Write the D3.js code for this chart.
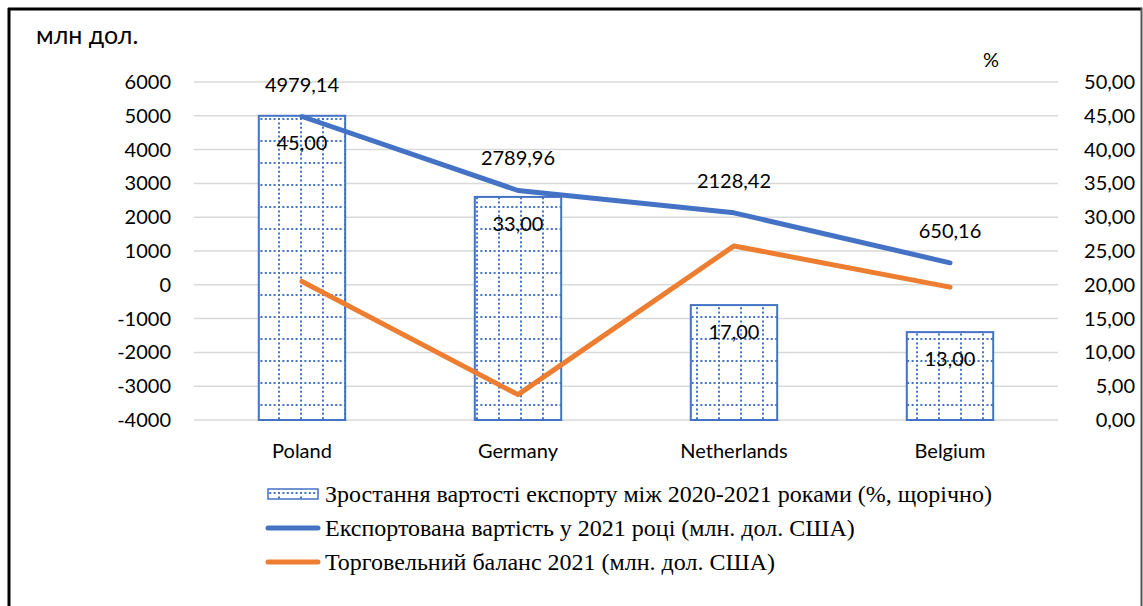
<!DOCTYPE html>
<html lang="uk">
<head>
    <meta charset="UTF-8">
    <title>Експорт 2021</title>
    <script src="https://d3js.org/d3.v7.min.js"></script>
    <style>
        body {
            margin: 0;
            background: #ffffff;
        }
        .tick-label {
            font-family: Lato, "Open Sans", sans-serif;
            font-size: 20px;
            fill: #000;
        }
        .legend-text {
            font-family: "Liberation Serif", "DejaVu Serif", serif;
            font-size: 24px;
            fill: #000;
        }
    </style>
</head>
<body>
    <div id="chart"></div>
    <script>
        const categories = ['Poland', 'Germany', 'Netherlands', 'Belgium'];
        const growthPct = [45.00, 33.00, 17.00, 13.00];
        const exportValue = [4979.14, 2789.96, 2128.42, 650.16];
        const tradeBalance = [100, -3250, 1150, -70];
        const leftTicks = [-4000, -3000, -2000, -1000, 0, 1000, 2000, 3000, 4000, 5000, 6000];
        const rightTicks = [0, 5, 10, 15, 20, 25, 30, 35, 40, 45, 50];
        const legendLabels = [
            'Зростання вартості експорту між 2020-2021 роками (%, щорічно)',
            'Експортована вартість у 2021 році (млн. дол. США)',
            'Торговельний баланс 2021 (млн. дол. США)'
        ];

        const width = 1143;
        const height = 606;
        const plot = { left: 194, right: 1058, top: 82, bottom: 420 };
        const blue = '#4472C4';
        const orange = '#ED7D31';

        const svg = d3.select('#chart')
            .append('svg')
            .attr('width', width)
            .attr('height', height);

        // frame
        svg.append('line').attr('x1', 9).attr('x2', 9).attr('y1', 8).attr('y2', height)
            .attr('stroke', '#000').attr('stroke-width', 3);
        svg.append('line').attr('x1', 8).attr('x2', 1142).attr('y1', 9).attr('y2', 9)
            .attr('stroke', '#000').attr('stroke-width', 3);
        svg.append('line').attr('x1', 1141.5).attr('x2', 1141.5).attr('y1', 8).attr('y2', height)
            .attr('stroke', '#555').attr('stroke-width', 2);

        // dotted grid fill for the bars
        const pattern = svg.append('defs').append('pattern')
            .attr('id', 'dotgrid')
            .attr('patternUnits', 'userSpaceOnUse')
            .attr('x', 14).attr('y', 8)
            .attr('width', 22).attr('height', 22);
        pattern.append('rect').attr('width', 22).attr('height', 22).attr('fill', '#fff');
        pattern.append('line').attr('x1', 0).attr('x2', 22).attr('y1', 1).attr('y2', 1)
            .attr('stroke', blue).attr('stroke-width', 2).attr('stroke-dasharray', '2,2.4');
        pattern.append('line').attr('x1', 1).attr('x2', 1).attr('y1', 0).attr('y2', 22)
            .attr('stroke', blue).attr('stroke-width', 2).attr('stroke-dasharray', '2,2.4');

        const x = d3.scaleBand().domain(categories).range([plot.left, plot.right]);
        const yL = d3.scaleLinear().domain([-4000, 6000]).range([plot.bottom, plot.top]);
        const yR = d3.scaleLinear().domain([0, 50]).range([plot.bottom, plot.top]);
        const barW = x.bandwidth() * 0.4;
        const cx = d => x(d) + x.bandwidth() / 2;

        // gridlines
        svg.selectAll('.grid')
            .data(leftTicks)
            .enter().append('line')
            .attr('class', 'grid')
            .attr('x1', plot.left).attr('x2', plot.right)
            .attr('y1', d => yL(d)).attr('y2', d => yL(d))
            .attr('stroke', '#d9d9d9').attr('stroke-width', 1.5);

        // left axis (plain hyphen for negatives)
        const leftAxis = svg.append('g')
            .attr('transform', 'translate(194,0)')
            .call(d3.axisLeft(yL).tickValues(leftTicks).tickSize(0).tickPadding(23).tickFormat(d => String(d)));
        leftAxis.select('.domain').remove();
        leftAxis.selectAll('text').attr('class', 'tick-label').attr('font-family', null).attr('font-size', null);

        // right axis
        const rightAxis = svg.append('g')
            .attr('transform', 'translate(1135,0)')
            .call(d3.axisLeft(yR).tickValues(rightTicks).tickSize(0).tickPadding(0)
                .tickFormat(d => d3.format('.2f')(d).replace('.', ',')));
        rightAxis.select('.domain').remove();
        rightAxis.selectAll('text').attr('class', 'tick-label').attr('font-family', null).attr('font-size', null);

        // category labels
        svg.selectAll('.cat')
            .data(categories)
            .enter().append('text')
            .attr('class', 'tick-label')
            .attr('x', d => cx(d))
            .attr('y', 458)
            .attr('text-anchor', 'middle')
            .text(d => d);

        // axis titles
        svg.append('text').attr('class', 'tick-label').style('font-size', '25px')
            .attr('x', 36).attr('y', 44).text('млн дол.');
        svg.append('text').attr('class', 'tick-label')
            .attr('x', 991).attr('y', 67).attr('text-anchor', 'middle').text('%');

        // bars (right axis)
        svg.selectAll('.bar')
            .data(growthPct)
            .enter().append('rect')
            .attr('class', 'bar')
            .attr('x', (d, i) => cx(categories[i]) - barW / 2)
            .attr('y', d => yR(d))
            .attr('width', barW)
            .attr('height', d => yR(0) - yR(d))
            .attr('fill', 'url(#dotgrid)')
            .attr('stroke', blue)
            .attr('stroke-width', 2);

        // lines (left axis)
        const line = d3.line()
            .x((d, i) => cx(categories[i]))
            .y(d => yL(d));

        svg.append('path').datum(exportValue)
            .attr('fill', 'none').attr('stroke', blue).attr('stroke-width', 5)
            .attr('stroke-linecap', 'round').attr('stroke-linejoin', 'round')
            .attr('d', line);
        svg.append('path').datum(tradeBalance)
            .attr('fill', 'none').attr('stroke', orange).attr('stroke-width', 5)
            .attr('stroke-linecap', 'round').attr('stroke-linejoin', 'round')
            .attr('d', line);

        // data labels
        const fmt2 = d => d3.format('.2f')(d).replace('.', ',');
        svg.selectAll('.bar-label')
            .data(growthPct)
            .enter().append('text')
            .attr('class', 'tick-label')
            .attr('x', (d, i) => cx(categories[i]))
            .attr('y', d => yR(d) + 34)
            .attr('text-anchor', 'middle')
            .text(fmt2);
        svg.selectAll('.val-label')
            .data(exportValue)
            .enter().append('text')
            .attr('class', 'tick-label')
            .attr('x', (d, i) => cx(categories[i]))
            .attr('y', d => yL(d) - 25)
            .attr('text-anchor', 'middle')
            .text(fmt2);

        // legend
        const legend = svg.append('g');
        const rowY = [494, 528, 562];
        legend.append('rect')
            .attr('x', 268).attr('y', rowY[0] - 5).attr('width', 50).attr('height', 10)
            .attr('fill', 'url(#dotgrid)').attr('stroke', blue).attr('stroke-width', 1.5);
        [blue, orange].forEach((c, i) => {
            legend.append('line')
                .attr('x1', 268).attr('x2', 318)
                .attr('y1', rowY[i + 1]).attr('y2', rowY[i + 1])
                .attr('stroke', c).attr('stroke-width', 5).attr('stroke-linecap', 'round');
        });
        legend.selectAll('.legend-text')
            .data(legendLabels)
            .enter().append('text')
            .attr('class', 'legend-text')
            .attr('x', 325)
            .attr('y', (d, i) => rowY[i] + 8)
            .text(d => d);
    </script>
</body>
</html>
